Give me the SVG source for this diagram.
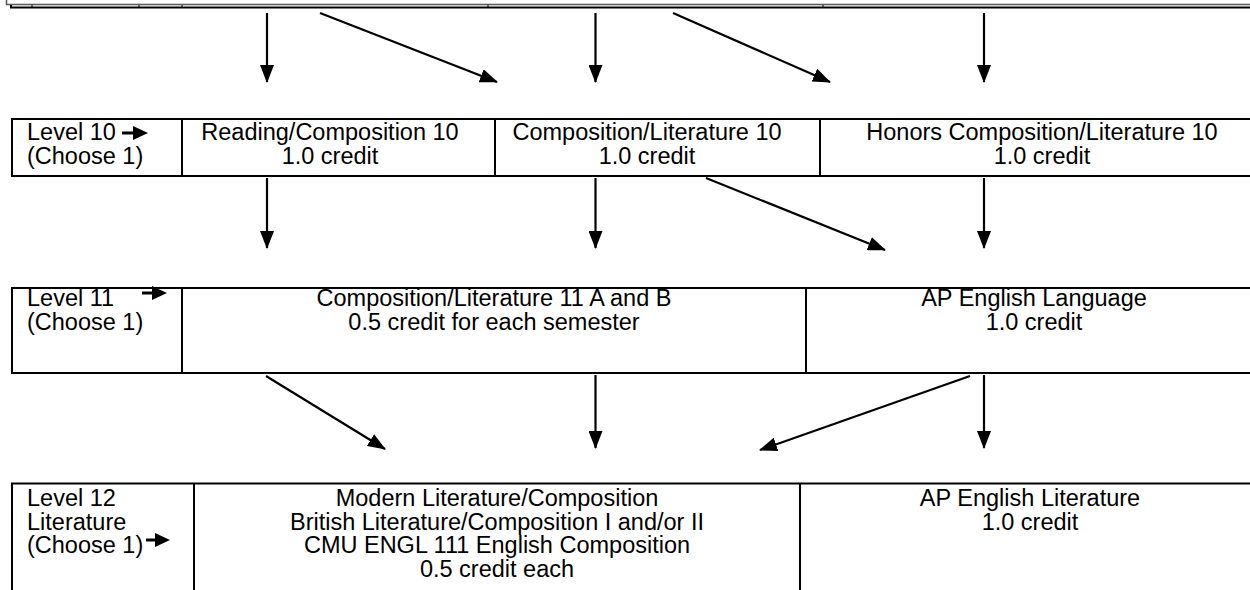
<svg xmlns="http://www.w3.org/2000/svg" width="1250" height="590" viewBox="0 0 1250 590">
<style>
.b{fill:none;stroke:#000;stroke-width:2}
.t{font-family:"Liberation Sans",Arial,sans-serif;font-size:23.5px;fill:#000}
.c{text-anchor:middle}
.conn{stroke:#000;stroke-width:2.2;fill:none}
</style>
<defs>
<marker id="ah" viewBox="0 0 18 14" refX="17" refY="7" markerWidth="18" markerHeight="14" markerUnits="userSpaceOnUse" orient="auto">
<path d="M0,0 L18,7 L0,14 Z" fill="#000"/>
</marker>
</defs>
<rect width="1250" height="590" fill="#fff"/>
<g id="top-table">
<path d="M6.5,0 V4.5 H1250" stroke="#555" stroke-width="1.5" fill="none"/>
<path d="M11,5 V7.5 H1250" stroke="#000" stroke-width="2" fill="none"/>
<path d="M32,5 V7 M139,5 V7 M182,5 V7 M488,5 V7 M823,5 V7" stroke="#000" stroke-width="1"/>
</g>
<g id="level10">
<rect class="b" x="12" y="119" width="1260" height="57"/>
<line class="b" x1="182" y1="119" x2="182" y2="176"/>
<line class="b" x1="495" y1="119" x2="495" y2="176"/>
<line class="b" x1="820" y1="119" x2="820" y2="176"/>
<text class="t" x="27" y="140">Level 10</text>
<text class="t" x="27" y="164">(Choose 1)</text>
<g id="arrow10"><line x1="122" y1="133" x2="135" y2="133" stroke="#000" stroke-width="3"/><path d="M133,126 L148,133 L133,140 Z" fill="#000"/></g>
</g>
<g id="reading10">
<text class="t c" x="330" y="140">Reading/Composition 10</text>
<text class="t c" x="330" y="164">1.0 credit</text>
</g>
<g id="complit10">
<text class="t c" x="647" y="140">Composition/Literature 10</text>
<text class="t c" x="647" y="164">1.0 credit</text>
</g>
<g id="honors10">
<text class="t c" x="1042" y="140">Honors Composition/Literature 10</text>
<text class="t c" x="1042" y="164">1.0 credit</text>
</g>
<g id="level11">
<rect class="b" x="12" y="288" width="1260" height="85"/>
<line class="b" x1="182" y1="288" x2="182" y2="373"/>
<line class="b" x1="806" y1="288" x2="806" y2="373"/>
<text class="t" x="27" y="306">Level 11</text>
<text class="t" x="27" y="330">(Choose 1)</text>
<g id="arrow11"><line x1="142" y1="293" x2="154" y2="293" stroke="#000" stroke-width="3"/><path d="M152,286 L167,293 L152,300 Z" fill="#000"/></g>
</g>
<g id="complit11">
<text class="t c" x="494" y="306">Composition/Literature 11 A and B</text>
<text class="t c" x="494" y="330">0.5 credit for each semester</text>
</g>
<g id="apLang">
<text class="t c" x="1034" y="306">AP English Language</text>
<text class="t c" x="1034" y="330">1.0 credit</text>
</g>
<g id="level12">
<path class="b" d="M12,600 V483.5 H1272"/>
<line class="b" x1="194" y1="483.5" x2="194" y2="600"/>
<line class="b" x1="800" y1="483.5" x2="800" y2="600"/>
<text class="t" x="27" y="506">Level 12</text>
<text class="t" x="27" y="529.5">Literature</text>
<text class="t" x="27" y="553">(Choose 1)</text>
<g id="arrow12"><line x1="146" y1="540" x2="157" y2="540" stroke="#000" stroke-width="3"/><path d="M155,533 L170,540 L155,547 Z" fill="#000"/></g>
</g>
<g id="lit12">
<text class="t c" x="497" y="506">Modern Literature/Composition</text>
<text class="t c" x="497" y="529.5">British Literature/Composition I and/or II</text>
<text class="t c" x="497" y="553">CMU ENGL 111 English Composition</text>
<text class="t c" x="497" y="576.5">0.5 credit each</text>
</g>
<g id="apLit">
<text class="t c" x="1030" y="506">AP English Literature</text>
<text class="t c" x="1030" y="529.5">1.0 credit</text>
</g>
<g id="connectors">
<line class="conn" x1="267" y1="13" x2="267" y2="82" marker-end="url(#ah)"/>
<line class="conn" x1="320" y1="13" x2="497" y2="82" marker-end="url(#ah)"/>
<line class="conn" x1="595.5" y1="13" x2="595.5" y2="82" marker-end="url(#ah)"/>
<line class="conn" x1="673" y1="13" x2="830" y2="82" marker-end="url(#ah)"/>
<line class="conn" x1="984" y1="13" x2="984" y2="82" marker-end="url(#ah)"/>
<line class="conn" x1="267" y1="178" x2="267" y2="248" marker-end="url(#ah)"/>
<line class="conn" x1="595.5" y1="178" x2="595.5" y2="248" marker-end="url(#ah)"/>
<line class="conn" x1="706" y1="178" x2="885" y2="250" marker-end="url(#ah)"/>
<line class="conn" x1="984" y1="178" x2="984" y2="248" marker-end="url(#ah)"/>
<line class="conn" x1="266" y1="376" x2="385" y2="449" marker-end="url(#ah)"/>
<line class="conn" x1="595.5" y1="375" x2="595.5" y2="448" marker-end="url(#ah)"/>
<line class="conn" x1="970" y1="376" x2="760" y2="450" marker-end="url(#ah)"/>
<line class="conn" x1="984" y1="375" x2="984" y2="448" marker-end="url(#ah)"/>
</g>
</svg>
